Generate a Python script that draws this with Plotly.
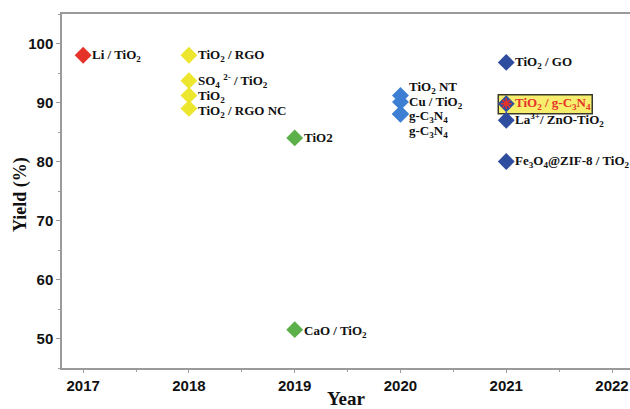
import plotly.graph_objects as go

# ---- data ----
years_2017 = [2017]
yield_2017 = [98.0]
labels_2017 = ["Li / TiO<sub>2</sub>"]

years_2018 = [2018, 2018, 2018, 2018]
yield_2018 = [98.0, 93.7, 91.2, 89.0]
labels_2018 = ["TiO<sub>2</sub> / RGO", "SO<sub>4</sub> <sup>2-</sup> / TiO<sub>2</sub>",
               "TiO<sub>2</sub>", "TiO<sub>2</sub> / RGO NC"]

years_2019 = [2019, 2019]
yield_2019 = [84.0, 51.5]
labels_2019 = ["TiO2", "CaO / TiO<sub>2</sub>"]

years_2020 = [2020, 2020, 2020, 2020]
yield_2020 = [91.2, 90.1, 88.1, 88.0]
labels_2020 = ["TiO<sub>2</sub> NT", "Cu / TiO<sub>2</sub>",
               "g-C<sub>3</sub>N<sub>4</sub>", "g-C<sub>3</sub>N<sub>4</sub>"]

years_2021 = [2021, 2021, 2021, 2021]
yield_2021 = [96.8, 89.8, 87.0, 80.0]
labels_2021 = ["TiO<sub>2</sub> / GO", "TiO<sub>2</sub> / g-C<sub>3</sub>N<sub>4</sub>",
               "La<sup>3+</sup>/ ZnO-TiO<sub>2</sub>", "Fe<sub>3</sub>O<sub>4</sub>@ZIF-8 / TiO<sub>2</sub>"]

highlight_year = 2021
highlight_yield = 89.8

x_ticks = [2017, 2018, 2019, 2020, 2021, 2022]
y_ticks = [50, 60, 70, 80, 90, 100]

# ---- styles ----
groups = [
    (years_2017, yield_2017, labels_2017, "#e5332a", [0]),
    (years_2018, yield_2018, labels_2018, "#ece62f", [0, 0, -1, -3]),
    (years_2019, yield_2019, labels_2019, "#5bb04a", [0, -2]),
    (years_2020, yield_2020, labels_2020, "#3d7fd2", [8, -1, -3, -17]),
    (years_2021, yield_2021, labels_2021, "#2f4d9e", [0, 0, 0, 0]),
]

serif = "Times New Roman, Liberation Serif, serif"
sans = "Arial, Liberation Sans, sans-serif"

fig = go.Figure()

for xs, ys, labs, col, shifts in groups:
    fig.add_trace(go.Scatter(x=xs, y=ys, mode="markers",
                             marker=dict(symbol="diamond", size=13, color=col,
                                         line=dict(width=0)),
                             showlegend=False, hoverinfo="skip"))
    for x, y, t, s in zip(xs, ys, labs, shifts):
        is_hl = (x == highlight_year and y == highlight_yield)
        fig.add_annotation(x=x, y=y, text=t, showarrow=False,
                           xanchor="left", yanchor="middle", xshift=7, yshift=s,
                           font=dict(family=serif, size=13, weight="bold",
                                     color="#e5332a" if is_hl else "#111111"))

# highlight box and asterisk
fig.add_shape(type="rect", xref="x", yref="y", xsizemode="pixel", ysizemode="pixel",
              xanchor=highlight_year, yanchor=highlight_yield,
              x0=-8, x1=86, y0=-10, y1=9, layer="below",
              fillcolor="#f6ee6c", line=dict(color="#3a3a2a", width=1.5))
fig.add_trace(go.Scatter(x=[highlight_year], y=[highlight_yield], mode="markers",
                         marker=dict(symbol="asterisk", size=9, color="#e5332a",
                                     line=dict(color="#e5332a", width=1.5)),
                         showlegend=False, hoverinfo="skip"))

# y-axis title as an annotation for exact placement
fig.add_annotation(xref="paper", yref="paper", x=0, y=0.5, xshift=-42, yshift=-4,
                   text="Yield (%)", textangle=-90, showarrow=False,
                   xanchor="center", yanchor="middle",
                   font=dict(family=serif, size=18, weight="bold", color="#111"))

axis_col = "#9a9a9a"
fig.update_layout(
    width=630, height=409,
    margin=dict(l=62, r=0, t=14, b=41),
    plot_bgcolor="white", paper_bgcolor="white",
    xaxis=dict(range=[2016.80, 2022.17], tickvals=x_ticks, showgrid=False, zeroline=False,
               showline=True, linecolor=axis_col, linewidth=1.5, mirror=True,
               ticks="outside", ticklen=3, tickcolor=axis_col,
               minor=dict(dtick=0.5, ticks="outside", ticklen=2, tickcolor=axis_col),
               tickfont=dict(family=sans, size=15, weight="bold", color="#111"),
               title=dict(text="Year", standoff=2,
                          font=dict(family=serif, size=19, weight="bold", color="#111"))),
    yaxis=dict(range=[45, 105], tickvals=y_ticks, showgrid=False, zeroline=False,
               showline=True, linecolor=axis_col, linewidth=1.5, mirror=False,
               ticks="outside", ticklen=4, tickcolor=axis_col,
               minor=dict(dtick=5, ticks="outside", ticklen=2, tickcolor=axis_col),
               tickfont=dict(family=sans, size=15, weight="bold", color="#111")),
)

fig.write_html("out.html", config={"displayModeBar": False},
               post_script="document.body.style.margin='0';document.body.style.overflow='hidden';")
